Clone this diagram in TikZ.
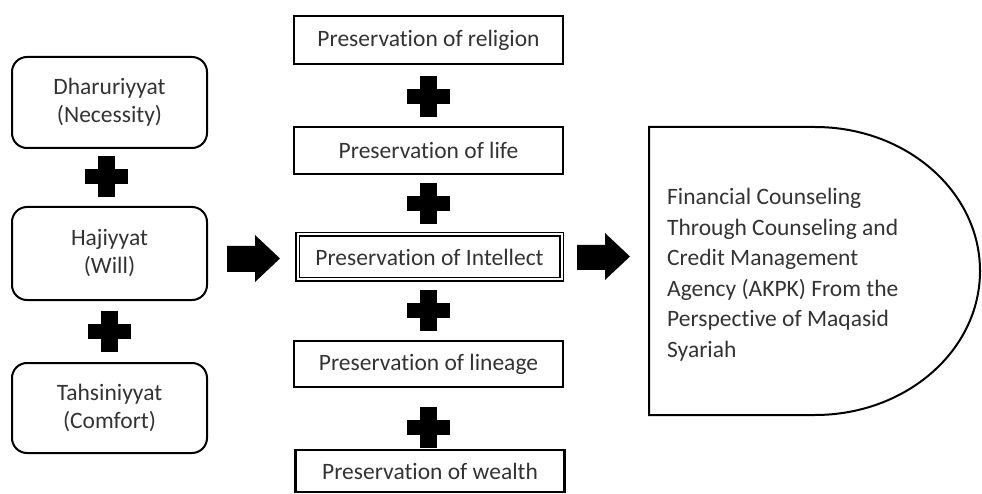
\documentclass[tikz,border=0pt]{standalone}
\usepackage{fontspec}
\setmainfont[Ligatures=NoCommon]{Carlito}
\begin{document}
\begin{tikzpicture}[x=1pt,y=-1pt,
  txt/.style={text=black!80, font=\fontsize{23.5}{28}\selectfont, align=center},
  leftbox/.style={txt, draw=black, line width=2pt, rounded corners=15pt, minimum width=195pt, inner sep=0pt},
  midbox/.style={txt, draw=black, line width=2.6pt, minimum width=269pt, inner sep=0pt},
  dblbox/.style={txt, draw=black, line width=1.6pt, double, double distance=2pt, minimum width=264pt, inner sep=0pt},
  plusmark/.pic={\fill[black] (-21.5,-7.5) rectangle (21.5,7.5); \fill[black] (-8.5,-20.5) rectangle (8.5,20.5);},
  blockarrow/.style={fill=black}
]
\useasboundingbox (0,0) rectangle (982,494);
% left column
\node[leftbox, minimum height=91pt] (dh) at (109.5,102.5) {Dharuriyyat\\(Necessity)};
\node[leftbox, minimum height=93pt] (hj) at (109.5,253.5) {Hajiyyat\\(Will)};
\node[leftbox, minimum height=90pt] (th) at (109.5,408) {Tahsiniyyat\\(Comfort)};
\pic at (106.5,177) {plusmark};
\pic at (109.5,331) {plusmark};
% middle column
\node[midbox, minimum height=48pt] (rel) at (428.5,40) {Preservation of religion};
\node[midbox, minimum height=47pt] (life) at (428.5,150.5) {Preservation of life};
\node[dblbox, minimum height=45pt] (intel) at (429.5,257) {Preservation of Intellect};
\node[midbox, minimum height=46pt] (lin) at (428.5,364) {Preservation of lineage};
\node[midbox, minimum height=42pt] (wel) at (430,471) {Preservation of wealth};
\pic at (428,97) {plusmark};
\pic at (428,204) {plusmark};
\pic at (428,310) {plusmark};
\pic at (428,427) {plusmark};
% arrows
\fill[blockarrow] (227,246) -- (255,246) -- (255,235) -- (280,258.5) -- (255,282) -- (255,272) -- (227,272) -- cycle;
\fill[blockarrow] (577,245) -- (605,245) -- (605,233) -- (630,256.5) -- (605,280) -- (605,270) -- (577,270) -- cycle;
% right delay shape
\draw[line width=2pt] (649,127) -- (815,127) arc[start angle=-90, end angle=90, x radius=165, y radius=144] -- (649,415) -- cycle;
\node[txt, font=\fontsize{23.5}{30.6}\selectfont, align=left, anchor=north west, inner sep=0pt] (res) at (667,188)
  {Financial Counseling\\Through Counseling and\\Credit Management\\Agency (AKPK) From the\\Perspective of Maqasid\\Syariah};
\end{tikzpicture}
\end{document}
